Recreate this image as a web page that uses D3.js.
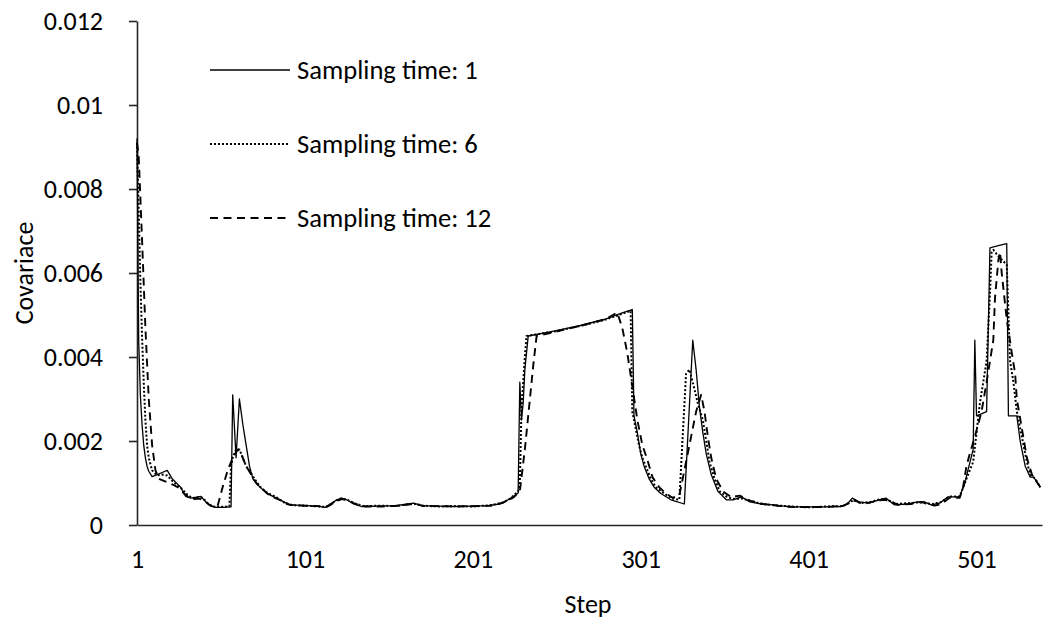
<!DOCTYPE html>
<html>
<head>
<meta charset="utf-8">
<script src="https://cdn.jsdelivr.net/npm/d3@7"></script>
<style>
  html, body { margin: 0; padding: 0; background: #fff; }
  svg text { font-family: Carlito, Calibri, Lato, sans-serif; fill: #000; }
</style>
</head>
<body>
<svg id="chart" width="1049" height="622"></svg>
<script>
// Step range and axis ticks
const stepCount = 540;
const xTickSteps = [1, 101, 201, 301, 401, 501];
const yTickValues = [0, 0.002, 0.004, 0.006, 0.008, 0.01, 0.012];
const yTickLabels = ["0", "0.002", "0.004", "0.006", "0.008", "0.01", "0.012"];
const seriesNames = ["Sampling time: 1", "Sampling time: 6", "Sampling time: 12"];

// Covariance per step, [step, value], for each sampling time
const sampling1 = [
  [1,0.0092],[2,0.0044],[3,0.0031],[4,0.0024],[5,0.0019],[6,0.0016],[7,0.0014],[8,0.00128],[10,0.00115],
  [13,0.0012],[16,0.00125],[19,0.0013],[22,0.0011],[25,0.00098],[27,0.0009],[30,0.00068],[33,0.00064],
  [36,0.00066],[39,0.00068],[42,0.00055],[45,0.00045],[48,0.00042],[52,0.00042],[57,0.00043],[58,0.0031],
  [60,0.0016],[62,0.003],[64,0.0024],[66,0.0019],[68,0.0014],[70,0.0011],[73,0.00095],[78,0.00076],
  [84,0.00064],[92,0.00048],[102,0.00046],[108,0.00045],[113,0.00042],[117,0.00052],[120,0.0006],
  [123,0.00064],[126,0.0006],[130,0.0005],[135,0.00044],[145,0.00045],[155,0.00046],[162,0.0005],
  [166,0.00052],[170,0.00046],[180,0.00045],[190,0.00044],[200,0.00045],[210,0.00046],[217,0.0005],
  [222,0.0006],[226,0.0007],[228,0.00076],[229,0.0034],[230,0.0025],[231,0.0029],[232,0.0037],[234,0.0045],
  [250,0.00462],[265,0.00475],[280,0.0049],[290,0.00505],[296,0.00513],[297,0.0026],[299,0.0022],
  [301,0.0017],[303,0.0014],[306,0.0011],[309,0.0009],[313,0.00075],[319,0.0006],[327,0.0005],[332,0.0044],
  [334,0.0037],[336,0.0028],[338,0.0022],[340,0.0017],[343,0.0012],[347,0.0008],[352,0.0006],[356,0.0006],
  [361,0.00067],[366,0.00055],[373,0.0005],[380,0.00048],[390,0.00043],[400,0.00043],[410,0.00043],
  [420,0.00044],[424,0.0005],[427,0.00064],[431,0.00055],[437,0.00052],[443,0.0006],[447,0.00064],
  [452,0.00048],[460,0.0005],[466,0.00055],[470,0.00055],[474,0.00048],[479,0.00052],[484,0.00067],
  [491,0.00067],[494,0.001],[499,0.0018],[500,0.0044],[501,0.0026],[507,0.0027],[509,0.0066],
  [514,0.00665],[519,0.0067],[520,0.0026],[525,0.0026],[527,0.002],[530,0.0014],[533,0.00114],
  [535,0.00114],[539,0.0009]
];

const sampling6 = [
  [1,0.0091],[2,0.0075],[3,0.0058],[4,0.0045],[5,0.0034],[6,0.0025],[7,0.0019],[8,0.0016],[10,0.0013],
  [13,0.00118],[16,0.0012],[19,0.00118],[22,0.00105],[25,0.00095],[28,0.00085],[31,0.00072],[34,0.00064],
  [37,0.00066],[40,0.00065],[43,0.00052],[46,0.00044],[50,0.00043],[56,0.00044],[57,0.0014],[58,0.0016],
  [60,0.0018],[62,0.0018],[64,0.0016],[66,0.0014],[68,0.0013],[71,0.0011],[74,0.00092],[78,0.00078],
  [84,0.00066],[90,0.0005],[95,0.00047],[102,0.00046],[110,0.00044],[114,0.00043],[118,0.00054],
  [122,0.00063],[126,0.00061],[130,0.00052],[136,0.00045],[146,0.00046],[156,0.00045],[163,0.0005],
  [167,0.0005],[171,0.00046],[181,0.00044],[191,0.00045],[201,0.00044],[211,0.00047],[218,0.00052],
  [223,0.00062],[228,0.0008],[229,0.001],[230,0.0028],[232,0.004],[233,0.0045],[250,0.00461],
  [265,0.00474],[280,0.00489],[290,0.00503],[295,0.0051],[296,0.0027],[298,0.0023],[300,0.0019],
  [302,0.0016],[304,0.0014],[307,0.0011],[310,0.0009],[315,0.00075],[320,0.00063],[324,0.0006],
  [328,0.0036],[330,0.0037],[332,0.0034],[335,0.0029],[338,0.0025],[340,0.002],[342,0.0015],[345,0.0011],
  [348,0.0008],[352,0.00068],[356,0.00062],[361,0.00063],[366,0.00058],[373,0.0005],[381,0.00047],
  [391,0.00044],[401,0.00042],[411,0.00044],[421,0.00045],[425,0.00052],[428,0.0006],[432,0.00052],
  [438,0.00055],[444,0.00062],[448,0.0006],[453,0.0005],[461,0.00052],[467,0.00054],[471,0.00052],
  [475,0.0005],[480,0.00055],[485,0.00068],[491,0.00068],[495,0.0011],[499,0.0015],[501,0.0022],
  [503,0.0029],[505,0.0034],[507,0.0039],[509,0.0055],[510,0.0065],[511,0.00655],[514,0.0064],
  [519,0.0062],[521,0.0039],[523,0.0034],[525,0.0027],[528,0.0021],[531,0.0015],[533,0.0012],
  [536,0.0011],[539,0.0009]
];

const sampling12 = [
  [1,0.0091],[2,0.0088],[4,0.0068],[6,0.0047],[8,0.003],[10,0.0019],[12,0.0013],[14,0.0011],[17,0.00105],
  [20,0.001],[23,0.00095],[26,0.00088],[29,0.00075],[32,0.00065],[35,0.00062],[38,0.00063],[41,0.00058],
  [44,0.00048],[47,0.00043],[49,0.00045],[52,0.0009],[55,0.0013],[58,0.0016],[61,0.0018],[63,0.0017],
  [66,0.0014],[69,0.0012],[72,0.001],[76,0.00085],[80,0.0007],[86,0.0006],[92,0.00048],[100,0.00046],
  [109,0.00045],[115,0.00045],[119,0.00055],[123,0.00062],[127,0.00058],[131,0.0005],[137,0.00044],
  [147,0.00044],[157,0.00046],[164,0.00049],[168,0.00049],[172,0.00045],[182,0.00045],[192,0.00044],
  [202,0.00045],[212,0.00046],[219,0.00053],[225,0.00065],[229,0.0008],[232,0.0018],[235,0.003],
  [237,0.0038],[239,0.0045],[250,0.0046],[265,0.00474],[280,0.0049],[287,0.00506],[290,0.0047],
  [293,0.0041],[296,0.0033],[299,0.0025],[302,0.0019],[305,0.00155],[308,0.00114],[312,0.0009],
  [316,0.00075],[320,0.00065],[324,0.0007],[330,0.0019],[334,0.0027],[337,0.0031],[339,0.0027],
  [341,0.0021],[343,0.0016],[346,0.0011],[350,0.0008],[355,0.00066],[360,0.0007],[366,0.00058],
  [374,0.0005],[382,0.00046],[392,0.00043],[402,0.00043],[412,0.00043],[422,0.00046],[426,0.00055],
  [429,0.00058],[433,0.0005],[439,0.00055],[445,0.0006],[449,0.00058],[454,0.00048],[462,0.0005],
  [468,0.00055],[472,0.0005],[476,0.00046],[480,0.0005],[485,0.00065],[491,0.00065],[493,0.0009],
  [495,0.0014],[497,0.0017],[500,0.0021],[502,0.0024],[504,0.0027],[507,0.0034],[511,0.0044],
  [512,0.0054],[514,0.0063],[515,0.0065],[516,0.006],[519,0.0049],[522,0.0041],[524,0.0036],
  [525,0.003],[528,0.0023],[531,0.0016],[534,0.0012],[539,0.0009]
];

const svg = d3.select("#chart");

const x = d3.scaleLinear().domain([1, stepCount]).range([137, 1042]);
const y = d3.scaleLinear().domain([0, 0.012]).range([525, 21]);

const fontSize = 26;
const legendFontSize = 26.6;

// Y axis: line, outward ticks and labels
const yAxis = d3.axisLeft(y)
  .tickValues(yTickValues)
  .tickFormat((d, i) => yTickLabels[i])
  .tickSizeInner(8)
  .tickSizeOuter(0)
  .tickPadding(26);
const gy = svg.append("g").attr("transform", `translate(${x(1)},0)`).call(yAxis);
gy.select(".domain").attr("stroke", "#262626").attr("stroke-width", 1.6);
gy.selectAll(".tick line").attr("stroke", "#262626").attr("stroke-width", 1.6);
gy.selectAll(".tick text").attr("font-size", fontSize).attr("font-family", null).attr("fill", "#000");

// X axis: line and step labels, no tick marks
const xAxis = d3.axisBottom(x)
  .tickValues(xTickSteps)
  .tickFormat(d3.format("d"))
  .tickSize(0)
  .tickPadding(25);
const gx = svg.append("g").attr("transform", `translate(0,${y(0)})`).call(xAxis);
gx.select(".domain").attr("stroke", "#262626").attr("stroke-width", 1.6);
gx.selectAll(".tick text").attr("font-size", fontSize).attr("font-family", null).attr("fill", "#000");

// Axis titles
svg.append("text")
  .attr("x", 588).attr("y", 613)
  .attr("text-anchor", "middle")
  .attr("font-size", fontSize)
  .text("Step");
svg.append("text")
  .attr("transform", `translate(33,${(y(0) + y(0.012)) / 2}) rotate(-90)`)
  .attr("text-anchor", "middle")
  .attr("font-size", fontSize)
  .text("Covariace");

// Series lines
const line = d3.line().x(d => x(d[0])).y(d => y(d[1]));
const seriesStyles = [
  { data: sampling1, width: 1.3, dash: null, cap: "butt" },
  { data: sampling6, width: 2, dash: "2,2", cap: "butt" },
  { data: sampling12, width: 1.9, dash: "8,5.5", cap: "butt" }
];
const plot = svg.append("g");
seriesStyles.forEach(s => {
  plot.append("path")
    .datum(s.data)
    .attr("fill", "none")
    .attr("stroke", "#000")
    .attr("stroke-width", s.width)
    .attr("stroke-linejoin", "round")
    .attr("stroke-linecap", s.cap)
    .attr("stroke-dasharray", s.dash)
    .attr("d", line);
});

// Legend
const legendRows = [70, 144, 218];
const legend = svg.append("g");
seriesNames.forEach((name, i) => {
  const s = seriesStyles[i];
  legend.append("line")
    .attr("x1", 210).attr("x2", 290)
    .attr("y1", legendRows[i]).attr("y2", legendRows[i])
    .attr("stroke", "#000")
    .attr("stroke-width", s.width)
    .attr("stroke-linecap", s.cap)
    .attr("stroke-dasharray", s.dash);
  legend.append("text")
    .attr("x", 297).attr("y", legendRows[i])
    .attr("dy", "0.35em")
    .attr("font-size", legendFontSize)
    .text(name);
});
</script>
</body>
</html>
